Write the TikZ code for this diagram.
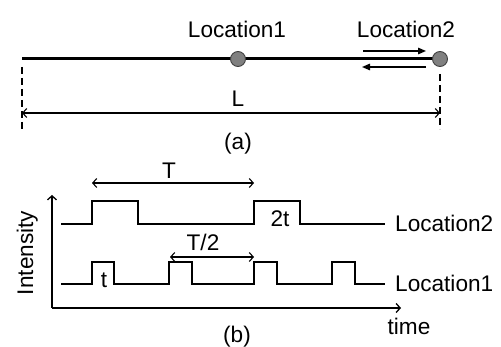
\documentclass[tikz,border=0pt]{standalone}
\usepackage{fontspec}
\setmainfont{Liberation Sans}
\usetikzlibrary{arrows.meta}
\begin{document}
\begin{tikzpicture}[x=1pt,y=-1pt,
  lbl/.style={font=\fontsize{22.6}{26}\selectfont, inner sep=0pt, anchor=base},
  lblw/.style={lbl, anchor=base west},
  dot/.style={circle, draw=black!75, fill=black!50, line width=0.9pt, minimum size=15pt, inner sep=0pt},
  fiber/.style={line width=3pt},
  dimline/.style={line width=1.1pt, {Straight Barb[length=4pt,width=9pt]}-{Straight Barb[length=4pt,width=9pt]}},
  axis/.style={line width=1.3pt, -{Straight Barb[length=4pt,width=9pt]}},
  guide/.style={line width=2pt, dash pattern=on 7pt off 4pt},
  flow/.style={line width=1.4pt, -{Triangle[length=8pt,width=6.5pt]}},
  sig/.style={line width=1.5pt, line join=miter}
]
\useasboundingbox (0,0) rectangle (501,347);
% ---------- panel (a)
\coordinate (A) at (22,59);
\draw[fiber] (A) -- (440,59);
\node[dot] (P1) at (238,59) {};
\node[dot] (P2) at (440,59) {};
\node[lbl] (L1a) at (237,38) {Location1};
\node[lbl] (L2a) at (406,38) {Location2};
\coordinate (fr1) at (363,51); \coordinate (fr2) at (426,51);
\coordinate (bk1) at (426,67); \coordinate (bk2) at (362,67);
\draw[flow] (fr1) -- (fr2);
\draw[flow] (bk1) -- (bk2);
\coordinate (dl1) at (22,67); \coordinate (dl2) at (22,129);
\coordinate (dr1) at (440,74); \coordinate (dr2) at (440,129);
\draw[guide] (dl1) -- (dl2);
\draw[guide] (dr1) -- (dr2);
\coordinate (Ls) at (22,113); \coordinate (Le) at (440,113);
\draw[dimline] (Ls) -- (Le);
\node[lbl] (Llab) at (238,107) {L};
\node[lbl] (capa) at (238,150) {(a)};
% ---------- panel (b)
\coordinate (O) at (52,308);
\coordinate (Ytop) at (52,195);
\coordinate (Xend) at (401,308);
\draw[axis] (O) -- (Ytop);
\draw[axis] (O) -- (Xend);
\node[lbl, rotate=90] (int) at (33,253) {Intensity};
\node[lbl] (time) at (409,335) {time};
\node[lbl] (capb) at (237,343) {(b)};
% Location2 signal
\draw[sig] (61,224) -- (92,224) -- (92,201) -- (138,201) -- (138,224) -- (254,224)
  -- (254,201) -- (300,201) -- (300,224) -- (385,224);
% Location1 signal
\draw[sig] (61,284) -- (92,284) -- (92,262) -- (114,262) -- (114,284) -- (169,284)
  -- (169,262) -- (192,262) -- (192,284) -- (254,284) -- (254,262) -- (277,262)
  -- (277,284) -- (332,284) -- (332,262) -- (355,262) -- (355,284) -- (385,284);
\node[lblw] (L2b) at (395,232) {Location2};
\node[lblw] (L1b) at (395,292) {Location1};
% period markers
\coordinate (Ts) at (92,183); \coordinate (Te) at (254,183);
\draw[dimline] (Ts) -- (Te);
\node[lbl] (Tlab) at (169,179) {T};
\coordinate (Hs) at (170,257); \coordinate (He) at (254,257);
\draw[dimline] (Hs) -- (He);
\node[lbl] (Hlab) at (203,251) {T/2};
\node[lbl] (tw) at (280,227) {2t};
\node[lbl] (tn) at (104,288) {t};
\end{tikzpicture}
\end{document}
